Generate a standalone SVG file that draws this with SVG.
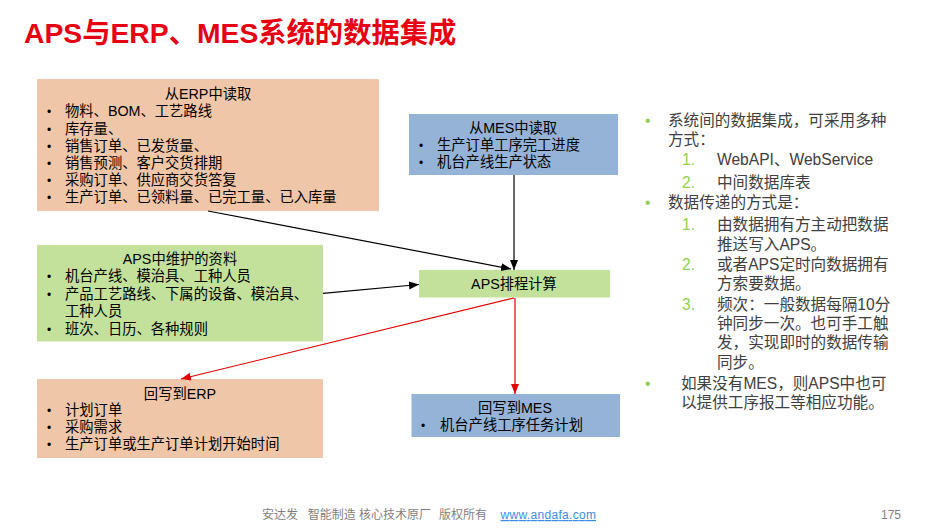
<svg xmlns="http://www.w3.org/2000/svg" width="938" height="529" viewBox="0 0 938 529">
<defs>
<style>
.t{font-family:"Liberation Sans","Noto Sans CJK SC",sans-serif;font-size:14.3px;fill:#000}
.c{text-anchor:middle}
.b{font-family:"Liberation Sans",sans-serif;font-size:12px;fill:#000}
.r{font-family:"Liberation Sans","Noto Sans CJK SC",sans-serif;font-size:15.6px;fill:#404040}
.g{fill:#92D050}
.ft{font-family:"Liberation Sans","Noto Sans CJK SC",sans-serif;font-size:12px;fill:#7F7F7F}
.peach{fill:#F0C6A8}
.blue{fill:#95B3D7}
.green{fill:#C3E19B}
.k{stroke:#000;stroke-width:1.2;fill:none}
.red{stroke:#E00000;stroke-width:1.2;fill:none}
</style>
<marker id="ak" markerUnits="userSpaceOnUse" markerWidth="12" markerHeight="10" refX="10" refY="4" orient="auto"><path d="M0,0 L10,4 L0,8 z" fill="#000"/></marker>
<marker id="ar" markerUnits="userSpaceOnUse" markerWidth="12" markerHeight="10" refX="10" refY="4" orient="auto"><path d="M0,0 L10,4 L0,8 z" fill="#E00000"/></marker>
</defs>
<rect width="938" height="529" fill="#fff"/>
<text x="24" y="43" font-family="'Liberation Sans','Noto Sans CJK SC',sans-serif" font-size="28.3" font-weight="bold" fill="#E60012">APS与ERP、MES系统的数据集成</text>

<g id="erp-read">
<rect class="peach" x="37" y="79" width="342" height="132"/>
<text class="t c" x="208" y="98.7">从ERP中读取</text>
<text class="b" x="47" y="116">•</text><text class="t" x="65" y="116">物料、BOM、工艺路线</text>
<text class="b" x="47" y="133.5">•</text><text class="t" x="65" y="133.5">库存量、</text>
<text class="b" x="47" y="150.7">•</text><text class="t" x="65" y="150.7">销售订单、已发货量、</text>
<text class="b" x="47" y="167.7">•</text><text class="t" x="65" y="167.7">销售预测、客户交货排期</text>
<text class="b" x="47" y="184.7">•</text><text class="t" x="65" y="184.7">采购订单、供应商交货答复</text>
<text class="b" x="47" y="202">•</text><text class="t" x="65" y="202">生产订单、已领料量、已完工量、已入库量</text>
</g>

<g id="mes-read">
<rect class="blue" x="409" y="114" width="209" height="61"/>
<text class="t c" x="513" y="133">从MES中读取</text>
<text class="b" x="419" y="149.7">•</text><text class="t" x="437" y="149.7">生产订单工序完工进度</text>
<text class="b" x="419" y="167">•</text><text class="t" x="437" y="167">机台产线生产状态</text>
</g>

<g id="aps-data">
<rect class="green" x="37" y="245" width="286" height="96.5"/>
<text class="t c" x="180" y="264.4">APS中维护的资料</text>
<text class="b" x="47" y="281.4">•</text><text class="t" x="65" y="281.4">机台产线、模治具、工种人员</text>
<text class="b" x="47" y="298.7">•</text><text class="t" x="65" y="298.7">产品工艺路线、下属的设备、模治具、</text>
<text class="t" x="65" y="316.4">工种人员</text>
<text class="b" x="47" y="333.7">•</text><text class="t" x="65" y="333.7">班次、日历、各种规则</text>
</g>

<g id="aps-calc">
<rect class="green" x="419" y="270" width="191" height="27.5"/>
<text class="t c" x="514" y="289.4">APS排程计算</text>
</g>

<g id="erp-write">
<rect class="peach" x="37" y="379" width="286" height="79"/>
<text class="t c" x="180" y="398.7">回写到ERP</text>
<text class="b" x="47" y="415.4">•</text><text class="t" x="65" y="415.4">计划订单</text>
<text class="b" x="47" y="432.1">•</text><text class="t" x="65" y="432.1">采购需求</text>
<text class="b" x="47" y="449.4">•</text><text class="t" x="65" y="449.4">生产订单或生产订单计划开始时间</text>
</g>

<g id="mes-write">
<rect class="blue" x="411.5" y="394" width="208.5" height="43"/>
<text class="t c" x="515" y="413">回写到MES</text>
<text class="b" x="421" y="429.7">•</text><text class="t" x="440" y="429.7">机台产线工序任务计划</text>
</g>

<g id="connectors">
<line class="k" x1="208" y1="211" x2="511" y2="269" marker-end="url(#ak)"/>
<line class="k" x1="514" y1="175" x2="514" y2="270" marker-end="url(#ak)"/>
<line class="k" x1="323" y1="293.3" x2="419" y2="284.5" marker-end="url(#ak)"/>
<line class="red" x1="514" y1="298" x2="181" y2="379" marker-end="url(#ar)"/>
<line class="red" x1="515" y1="298" x2="515" y2="394" marker-end="url(#ar)"/>
</g>

<g id="notes">
<text class="r g" x="645" y="125.9">•</text><text class="r" x="668" y="125.9">系统间的数据集成，可采用多种</text>
<text class="r" x="668" y="145.2">方式：</text>
<text class="r g" x="682" y="165.2">1.</text><text class="r" x="717" y="165.2">WebAPI、WebService</text>
<text class="r g" x="682" y="187.6">2.</text><text class="r" x="717" y="187.6">中间数据库表</text>
<text class="r g" x="645" y="207.6">•</text><text class="r" x="668" y="207.6">数据传递的方式是：</text>
<text class="r g" x="682" y="229.9">1.</text><text class="r" x="717" y="229.9">由数据拥有方主动把数据</text>
<text class="r" x="717" y="249.9">推送写入APS。</text>
<text class="r g" x="682" y="269.9">2.</text><text class="r" x="717" y="269.9">或者APS定时向数据拥有</text>
<text class="r" x="717" y="288.6">方索要数据。</text>
<text class="r g" x="682" y="309.9">3.</text><text class="r" x="717" y="309.9">频次：一般数据每隔10分</text>
<text class="r" x="717" y="328.6">钟同步一次。也可手工触</text>
<text class="r" x="717" y="348.2">发，实现即时的数据传输</text>
<text class="r" x="717" y="367.6">同步。</text>
<text class="r g" x="645" y="388.6">•</text><text class="r" x="681" y="388.6">如果没有MES，则APS中也可</text>
<text class="r" x="681" y="407.6">以提供工序报工等相应功能。</text>
</g>

<g id="footer">
<text class="ft" x="262" y="519">安达发</text>
<text class="ft" x="307.7" y="519">智能制造 核心技术原厂</text>
<text class="ft" x="439" y="519">版权所有</text>
<text class="ft" x="500.5" y="519" style="fill:#3C8DE6;text-decoration:underline" textLength="95.5">www.andafa.com</text>
<text class="ft" x="881" y="519">175</text>
</g>
</svg>
